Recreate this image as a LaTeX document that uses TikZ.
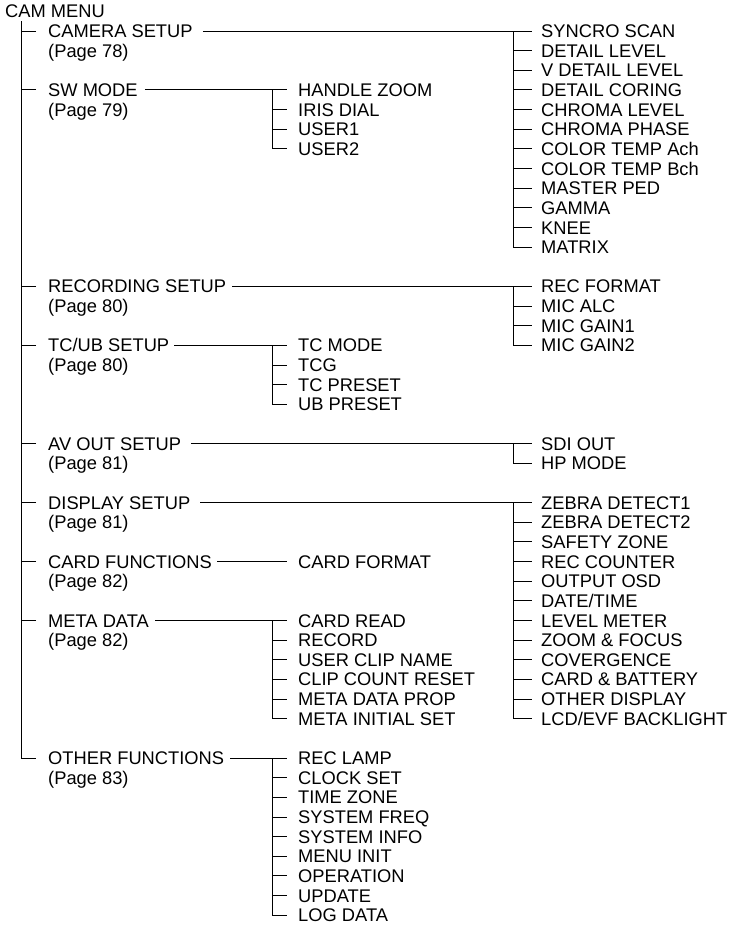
\documentclass[tikz,border=0pt]{standalone}
\usepackage{fontspec}
\setmainfont{Liberation Sans}
\begin{document}
\begin{tikzpicture}[x=1pt,y=1pt,
  lbl/.style={anchor=west, inner sep=0pt, text height=13pt, text depth=0pt, font=\fontsize{18.3}{20}\selectfont},
  ln/.style={line width=1pt}]
\useasboundingbox (0,0) rectangle (732,-926);
% root
\node[lbl] (cammenu) at (5,-11.35) {CAM MENU};
\coordinate (trunktop) at (21,-21);
% left column
\node[lbl] (camsetup) at (48,{-31-19.65*0}) {CAMERA SETUP};
\node[lbl] (camsetupp) at (48,{-31-19.65*1}) {(Page 78)};
\node[lbl] (swmode) at (48,{-31-19.65*3}) {SW MODE};
\node[lbl] (swmodep) at (48,{-31-19.65*4}) {(Page 79)};
\node[lbl] (recsetup) at (48,{-31-19.65*13}) {RECORDING SETUP};
\node[lbl] (recsetupp) at (48,{-31-19.65*14}) {(Page 80)};
\node[lbl] (tcub) at (48,{-31-19.65*16}) {TC/UB SETUP};
\node[lbl] (tcubp) at (48,{-31-19.65*17}) {(Page 80)};
\node[lbl] (avout) at (48,{-31-19.65*21}) {AV OUT SETUP};
\node[lbl] (avoutp) at (48,{-31-19.65*22}) {(Page 81)};
\node[lbl] (dispsetup) at (48,{-31-19.65*24}) {DISPLAY SETUP};
\node[lbl] (dispsetupp) at (48,{-31-19.65*25}) {(Page 81)};
\node[lbl] (cardfn) at (48,{-31-19.65*27}) {CARD FUNCTIONS};
\node[lbl] (cardfnp) at (48,{-31-19.65*28}) {(Page 82)};
\node[lbl] (metadata) at (48,{-31-19.65*30}) {META DATA};
\node[lbl] (metadatap) at (48,{-31-19.65*31}) {(Page 82)};
\node[lbl] (otherfn) at (48,{-31-19.65*37}) {OTHER FUNCTIONS};
\node[lbl] (otherfnp) at (48,{-31-19.65*38}) {(Page 83)};
% trunk
\draw[ln] (trunktop) |- ([xshift=-12pt]otherfn.west);
\foreach \n in {camsetup,swmode,recsetup,tcub,avout,dispsetup,cardfn,metadata}
  \draw[ln] ([xshift=-12pt]\n.west) -- (\n.west -| trunktop);
% middle column
\foreach \t [count=\i from 0] in {HANDLE ZOOM,IRIS DIAL,USER1,USER2}
  \node[lbl] (sw\i) at (298,{-31-19.65*(3+\i)}) {\t};
\foreach \t [count=\i from 0] in {TC MODE,TCG,TC PRESET,UB PRESET}
  \node[lbl] (tc\i) at (298,{-31-19.65*(16+\i)}) {\t};
\node[lbl] (cardformat) at (298,{-31-19.65*27}) {CARD FORMAT};
\foreach \t [count=\i from 0] in {CARD READ,RECORD,USER CLIP NAME,CLIP COUNT RESET,META DATA PROP,META INITIAL SET}
  \node[lbl] (md\i) at (298,{-31-19.65*(30+\i)}) {\t};
\foreach \t [count=\i from 0] in {REC LAMP,CLOCK SET,TIME ZONE,SYSTEM FREQ,SYSTEM INFO,MENU INIT,OPERATION,UPDATE,LOG DATA}
  \node[lbl] (of\i) at (298,{-31-19.65*(37+\i)}) {\t};
% right column
\foreach \t [count=\i from 0] in {SYNCRO SCAN,DETAIL LEVEL,V DETAIL LEVEL,DETAIL CORING,CHROMA LEVEL,CHROMA PHASE,COLOR TEMP Ach,COLOR TEMP Bch,MASTER PED,GAMMA,KNEE,MATRIX}
  \node[lbl] (cs\i) at (541,{-31-19.65*\i}) {\t};
\foreach \t [count=\i from 0] in {REC FORMAT,MIC ALC,MIC GAIN1,MIC GAIN2}
  \node[lbl] (rs\i) at (541,{-31-19.65*(13+\i)}) {\t};
\foreach \t [count=\i from 0] in {SDI OUT,HP MODE}
  \node[lbl] (av\i) at (541,{-31-19.65*(21+\i)}) {\t};
\foreach \t [count=\i from 0] in {ZEBRA DETECT1,ZEBRA DETECT2,SAFETY ZONE,REC COUNTER,OUTPUT OSD,DATE/TIME,LEVEL METER,ZOOM \& FOCUS,COVERGENCE,CARD \& BATTERY,OTHER DISPLAY,LCD/EVF BACKLIGHT}
  \node[lbl] (ds\i) at (541,{-31-19.65*(24+\i)}) {\t};
% parent to child lines
\draw[ln] ([xshift=10pt]camsetup.east) -- ([xshift=-9pt]cs0.west);
\draw[ln] ([xshift=7pt]swmode.east) -- ([xshift=-11pt]sw0.west);
\draw[ln] ([xshift=6pt]recsetup.east) -- ([xshift=-9pt]rs0.west);
\draw[ln] ([xshift=5pt]tcub.east) -- ([xshift=-11pt]tc0.west);
\draw[ln] ([xshift=10pt]avout.east) -- ([xshift=-9pt]av0.west);
\draw[ln] ([xshift=10pt]dispsetup.east) -- ([xshift=-9pt]ds0.west);
\draw[ln] ([xshift=5pt]cardfn.east) -- ([xshift=-11pt]cardformat.west);
\draw[ln] ([xshift=6pt]metadata.east) -- ([xshift=-11pt]md0.west);
\draw[ln] ([xshift=6pt]otherfn.east) -- ([xshift=-11pt]of0.west);
% middle brackets
\draw[ln] ([xshift=-26pt]sw0.west) |- ([xshift=-11pt]sw3.west);
\foreach \i in {1,2} \draw[ln] ([xshift=-26pt]sw\i.west) -- ([xshift=-11pt]sw\i.west);
\draw[ln] ([xshift=-26pt]tc0.west) |- ([xshift=-11pt]tc3.west);
\foreach \i in {1,2} \draw[ln] ([xshift=-26pt]tc\i.west) -- ([xshift=-11pt]tc\i.west);
\draw[ln] ([xshift=-26pt]md0.west) |- ([xshift=-11pt]md5.west);
\foreach \i in {1,...,4} \draw[ln] ([xshift=-26pt]md\i.west) -- ([xshift=-11pt]md\i.west);
\draw[ln] ([xshift=-26pt]of0.west) |- ([xshift=-11pt]of8.west);
\foreach \i in {1,...,7} \draw[ln] ([xshift=-26pt]of\i.west) -- ([xshift=-11pt]of\i.west);
% right brackets
\draw[ln] ([xshift=-28pt]cs0.west) |- ([xshift=-9pt]cs11.west);
\foreach \i in {1,...,10} \draw[ln] ([xshift=-28pt]cs\i.west) -- ([xshift=-9pt]cs\i.west);
\draw[ln] ([xshift=-28pt]rs0.west) |- ([xshift=-9pt]rs3.west);
\foreach \i in {1,2} \draw[ln] ([xshift=-28pt]rs\i.west) -- ([xshift=-9pt]rs\i.west);
\draw[ln] ([xshift=-28pt]av0.west) |- ([xshift=-9pt]av1.west);
\draw[ln] ([xshift=-28pt]ds0.west) |- ([xshift=-9pt]ds11.west);
\foreach \i in {1,...,10} \draw[ln] ([xshift=-28pt]ds\i.west) -- ([xshift=-9pt]ds\i.west);
\end{tikzpicture}
\end{document}
